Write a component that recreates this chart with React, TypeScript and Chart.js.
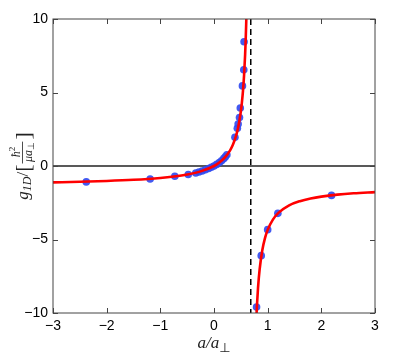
import React, { useEffect, useRef } from "react";
import { Chart, registerables } from "chart.js";

Chart.register(...registerables);

// Theory curve (left branch, below resonance)
const curveLeftX = [-3, -2.5, -2, -1.5, -1, -0.75, -0.5, -0.25, 0, 0.1, 0.2, 0.3, 0.35, 0.4, 0.45, 0.5, 0.52, 0.54, 0.56, 0.58, 0.59, 0.6, 0.605];
const curveLeftY = [-1.115, -1.075, -1.02, -0.94, -0.813, -0.716, -0.578, -0.366, 0, 0.234, 0.565, 1.068, 1.431, 1.923, 2.624, 3.704, 4.322, 5.109, 6.147, 7.582, 8.526, 9.693, 10.39];
// Theory curve (right branch, above resonance)
const curveRightX = [0.79, 0.8, 0.82, 0.85, 0.9, 0.95, 1.0, 1.1, 1.2, 1.4, 1.6, 1.8, 2.0, 2.3, 2.6, 3.0];
const curveRightY = [-10.29, -9.51, -8.31, -7.05, -5.73, -4.91, -4.345, -3.63, -3.19, -2.68, -2.394, -2.211, -2.083, -1.95, -1.859, -1.775];
// Data points
const pointsX = [-2.38, -1.19, -0.73, -0.48, -0.34, -0.28, -0.22, -0.16, -0.1, -0.05, 0.0, 0.05, 0.1, 0.14, 0.18, 0.21, 0.24, 0.39, 0.435, 0.45, 0.475, 0.49, 0.53, 0.555, 0.56, 0.793, 0.88, 1.0, 1.19, 2.19];
const pointsY = [-1.08, -0.88, -0.7, -0.58, -0.48, -0.41, -0.34, -0.25, -0.17, -0.09, 0.0, 0.11, 0.23, 0.35, 0.5, 0.62, 0.76, 1.95, 2.56, 2.85, 3.3, 3.95, 5.45, 6.55, 8.45, -9.6, -6.1, -4.33, -3.22, -2.0];
// Resonance position
const resonanceX = 0.685;

const xTicks = [-3, -2, -1, 0, 1, 2, 3];
const yTicks = [-10, -5, 0, 5, 10];

const toPts = (xs: number[], ys: number[]) => xs.map((x, i) => ({ x, y: ys[i] }));

const fmt = (v: number) => (v < 0 ? "\u2212" + Math.abs(v) : String(v));

const decorPlugin = {
  id: "decor",
  beforeDatasetsDraw(chart: any) {
    const { ctx, chartArea: a, scales } = chart;
    const y0 = Math.round(scales.y.getPixelForValue(0));
    const xr = scales.x.getPixelForValue(resonanceX);
    ctx.save();
    ctx.strokeStyle = "#222";
    ctx.lineWidth = 1.5;
    ctx.beginPath();
    ctx.moveTo(a.left, y0);
    ctx.lineTo(a.right, y0);
    ctx.stroke();
    ctx.strokeStyle = "#000";
    ctx.lineWidth = 1.5;
    ctx.setLineDash([6, 4]);
    ctx.beginPath();
    ctx.moveTo(xr, a.top);
    ctx.lineTo(xr, a.bottom);
    ctx.stroke();
    ctx.restore();
  },
  afterDraw(chart: any) {
    const { ctx, chartArea: a, scales } = chart;
    ctx.save();
    ctx.strokeStyle = "#444";
    ctx.lineWidth = 1;
    ctx.strokeRect(a.left, a.top, a.right - a.left, a.bottom - a.top);
    const tl = 5;
    ctx.beginPath();
    for (const v of xTicks) {
      const px = Math.round(scales.x.getPixelForValue(v)) + 0.5;
      ctx.moveTo(px, a.bottom);
      ctx.lineTo(px, a.bottom - tl);
      ctx.moveTo(px, a.top);
      ctx.lineTo(px, a.top + tl);
    }
    for (const v of yTicks) {
      const py = Math.round(scales.y.getPixelForValue(v)) + 0.5;
      ctx.moveTo(a.left, py);
      ctx.lineTo(a.left + tl, py);
      ctx.moveTo(a.right, py);
      ctx.lineTo(a.right - tl, py);
    }
    ctx.stroke();

    // x label: a/a⊥
    ctx.fillStyle = "#222";
    ctx.textBaseline = "alphabetic";
    const mainF = "italic 17px 'Liberation Serif'";
    const subF = "13px 'DejaVu Sans'";
    ctx.font = mainF;
    const w1 = ctx.measureText("a/a").width;
    ctx.font = subF;
    const w2 = ctx.measureText("\u22A5").width;
    const cx = (a.left + a.right) / 2;
    const sx = cx - (w1 + w2) / 2;
    const by = 348;
    ctx.font = mainF;
    ctx.fillText("a/a", sx, by);
    ctx.font = subF;
    ctx.fillText("\u22A5", sx + w1, by + 4);

    // y label, rotated
    ctx.save();
    ctx.translate(28, (a.top + a.bottom) / 2);
    ctx.rotate(-Math.PI / 2);
    const pieces: { t: string; f: string; dy: number }[] = [
      { t: "g", f: "italic 17px 'Liberation Serif'", dy: 0 },
      { t: "1D", f: "italic 12px 'Liberation Serif'", dy: 3 },
      { t: "/", f: "17px 'Liberation Serif'", dy: 0 },
      { t: "[", f: "22px 'Liberation Serif'", dy: 2 },
    ];
    const numF = "italic 12px 'Liberation Serif'";
    const supF = "9px 'Liberation Serif'";
    ctx.font = numF;
    const wh = ctx.measureText("\u0127").width;
    ctx.font = supF;
    const w2s = ctx.measureText("2").width;
    ctx.font = numF;
    const wmu = ctx.measureText("\u03BCa").width;
    ctx.font = "9px 'DejaVu Sans'";
    const wperp = ctx.measureText("\u22A5").width;
    const fracW = Math.max(wh + w2s, wmu + wperp) + 3;
    ctx.font = "22px 'Liberation Serif'";
    const wClose = ctx.measureText("]").width;
    let total = 0;
    const widths: number[] = [];
    for (const p of pieces) {
      ctx.font = p.f;
      const w = ctx.measureText(p.t).width;
      widths.push(w);
      total += w;
    }
    total += fracW + 2 + wClose;
    let px = -total / 2;
    pieces.forEach((p, i) => {
      ctx.font = p.f;
      ctx.fillText(p.t, px, p.dy);
      px += widths[i];
    });
    px += 1;
    const barY = -6;
    ctx.fillRect(px, barY, fracW - 1, 0.8);
    const nx = px + (fracW - (wh + w2s)) / 2;
    ctx.font = numF;
    ctx.fillText("\u0127", nx, barY - 2);
    ctx.font = supF;
    ctx.fillText("2", nx + wh, barY - 7);
    const dx = px + (fracW - (wmu + wperp)) / 2;
    ctx.font = numF;
    ctx.fillText("\u03BCa", dx, barY + 10);
    ctx.font = "9px 'DejaVu Sans'";
    ctx.fillText("\u22A5", dx + wmu, barY + 12);
    px += fracW + 1;
    ctx.font = "22px 'Liberation Serif'";
    ctx.fillText("]", px, 2);
    ctx.restore();

    ctx.restore();
  },
};

export default function App() {
  const ref = useRef<HTMLCanvasElement | null>(null);
  useEffect(() => {
    if (!ref.current) return;
    const chart = new Chart(ref.current, {
      type: "scatter",
      data: {
        datasets: [
          {
            data: toPts(pointsX, pointsY),
            showLine: false,
            pointRadius: 3.8,
            pointBackgroundColor: "rgba(50,75,240,0.92)",
            pointBorderWidth: 0,
            order: 2,
          },
          {
            data: toPts(curveLeftX, curveLeftY),
            showLine: true,
            borderColor: "#ff0000",
            borderWidth: 2.6,
            pointRadius: 0,
            cubicInterpolationMode: "monotone",
            order: 1,
          },
          {
            data: toPts(curveRightX, curveRightY),
            showLine: true,
            borderColor: "#ff0000",
            borderWidth: 2.6,
            pointRadius: 0,
            cubicInterpolationMode: "monotone",
            order: 1,
          },
        ],
      } as any,
      options: {
        animation: false,
        responsive: false,
        maintainAspectRatio: false,
        layout: { padding: { left: 0, top: 19, right: 40, bottom: 0 } },
        plugins: { legend: { display: false }, tooltip: { enabled: false } },
        scales: {
          x: {
            type: "linear",
            min: -3,
            max: 3,
            afterBuildTicks: (s: any) => {
              s.ticks = xTicks.map((v) => ({ value: v }));
            },
            afterFit: (s: any) => {
              s.height = 49;
            },
            grid: { display: false, drawTicks: false },
            border: { display: false },
            ticks: {
              padding: 5,
              color: "#000",
              font: { family: "'Liberation Sans'", size: 14 },
              callback: (v: any) => fmt(Number(v)),
            },
          },
          y: {
            type: "linear",
            min: -10,
            max: 10,
            afterBuildTicks: (s: any) => {
              s.ticks = yTicks.map((v) => ({ value: v }));
            },
            afterFit: (s: any) => {
              s.width = 53;
            },
            grid: { display: false, drawTicks: false },
            border: { display: false },
            ticks: {
              padding: 5,
              color: "#000",
              font: { family: "'Liberation Sans'", size: 14 },
              callback: (v: any) => fmt(Number(v)),
            },
          },
        },
      } as any,
      plugins: [decorPlugin],
    });
    return () => chart.destroy();
  }, []);
  return (
    <div style={{ position: "absolute", left: 0, top: 0, width: 415, height: 362, background: "#fff" }}>
      <canvas ref={ref} width={415} height={362} style={{ width: 415, height: 362, display: "block" }} />
    </div>
  );
}
